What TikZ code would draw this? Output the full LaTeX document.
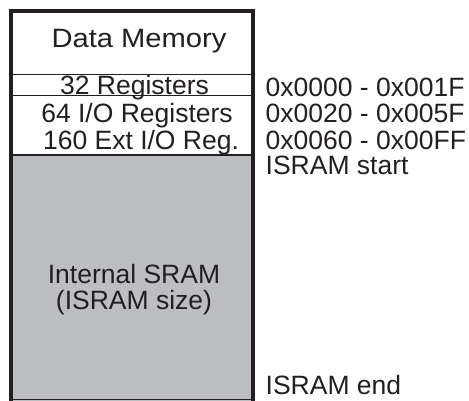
\documentclass[tikz,border=0pt]{standalone}
\usepackage{fontspec}
\usepackage{graphicx}
\setmainfont{Liberation Sans}
\definecolor{ink}{HTML}{231F20}
\definecolor{sram}{HTML}{BDBEC2}
\tikzset{
  lbl/.style={inner sep=0pt, anchor=base, text=ink, text depth=0pt, font=\fontsize{26.5}{30}\selectfont},
  addr/.style={lbl, anchor=base west},
  frame/.style={draw=ink, line width=3.6pt},
  divider/.style={draw=ink, line width=1.2pt}
}
\begin{document}
\begin{tikzpicture}[x=1pt,y=-1pt]
\useasboundingbox (0,0) rectangle (469,400);
% gray SRAM area
\fill[sram] (11,155) rectangle (253,402);
\draw[divider] (11,155) -- (253,155);
% dividers
\draw[divider] (11,74.5) -- (253,74.5);
\draw[divider] (11,95.5) -- (253,95.5);
% outer frame
\draw[frame] (11,402) -- (11,11) -- (253,11) -- (253,402);
\draw[divider] (11,399.5) -- (253,399.5);
% left texts
\node[lbl] (dm) at (139,47.7) {\scalebox{1.1}[1]{Data Memory}};
\node[lbl] (r32) at (134.5,94.5) {32 Registers};
\node[lbl] (r64) at (137,122.5) {64 I/O Registers};
\node[lbl] (r160) at (141,149) {160 Ext I/O Reg.};
\node[lbl] (sr1) at (134,283.3) {Internal SRAM};
\node[lbl] (sr2) at (134,309.5) {(ISRAM size)};
% right labels
\node[addr] (a1) at (265.5,96) {0x0000 - 0x001F};
\node[addr] (a2) at (265.5,122.8) {0x0020 - 0x005F};
\node[addr] (a3) at (265.5,149.5) {0x0060 - 0x00FF};
\node[addr] (a4) at (265.5,174) {ISRAM start};
\node[addr] (a5) at (265.5,394.5) {ISRAM end};
\end{tikzpicture}
\end{document}
